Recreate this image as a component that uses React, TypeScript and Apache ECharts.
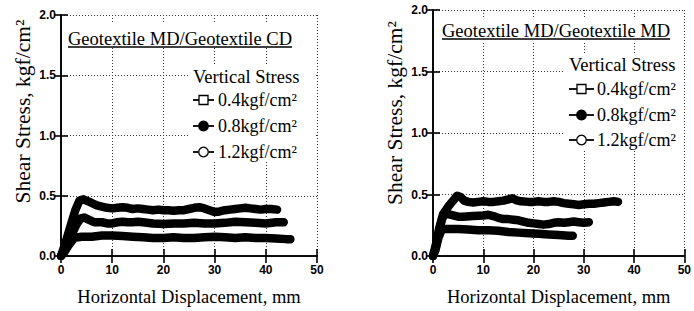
import React, { useEffect, useRef } from "react";
import * as echarts from "echarts";

// ---------- data ----------
const TITLES = ["Geotextile MD/Geotextile CD", "Geotextile MD/Geotextile MD"];
const LEGEND_TITLE = "Vertical Stress";
const SERIES_NAMES = ["0.4kgf/cm²", "0.8kgf/cm²", "1.2kgf/cm²"];
const X_NAME = "Horizontal Displacement, mm";
const Y_NAME = "Shear Stress, kgf/cm²";
const X_MIN = 0, X_MAX = 50, X_STEP = 10;
const Y_MIN = 0, Y_MAX = 2, Y_STEP = 0.5;

// Left panel: MD / CD
const leftS04: [number, number][] = [
  [0, 0], [0.6, 0.03], [1.5, 0.09], [2.6, 0.15], [4, 0.16], [6, 0.16], [8, 0.17], [10, 0.17],
  [12, 0.165], [14, 0.16], [16, 0.155], [18, 0.15], [20, 0.15], [22, 0.155], [24, 0.15],
  [26, 0.15], [28, 0.155], [30, 0.16], [32, 0.155], [34, 0.15], [36, 0.155], [38, 0.15],
  [40, 0.15], [42, 0.145], [44, 0.14], [44.8, 0.14],
];
const leftS08: [number, number][] = [
  [0, 0], [0.8, 0.06], [2, 0.17], [3, 0.26], [3.8, 0.31], [4.5, 0.32], [5.5, 0.3], [6.5, 0.28],
  [8, 0.28], [9, 0.27], [10, 0.27], [11, 0.28], [12, 0.285], [13, 0.28], [14, 0.28], [15, 0.285],
  [16, 0.28], [18, 0.27], [20, 0.265], [22, 0.27], [24, 0.27], [26, 0.275], [28, 0.27], [30, 0.27],
  [32, 0.275], [34, 0.285], [36, 0.28], [38, 0.275], [40, 0.27], [42, 0.28], [43.5, 0.28],
];
const leftS12: [number, number][] = [
  [0, 0], [0.8, 0.1], [1.8, 0.24], [2.8, 0.38], [3.6, 0.46], [4.4, 0.47], [5.2, 0.455], [6, 0.44],
  [7, 0.42], [8, 0.41], [9, 0.4], [10, 0.395], [11, 0.4], [12, 0.405], [13, 0.4], [14, 0.39],
  [15, 0.395], [16, 0.39], [17, 0.385], [18, 0.38], [19, 0.385], [20, 0.38], [21, 0.38],
  [22, 0.375], [23, 0.38], [24, 0.38], [25, 0.39], [26, 0.4], [27, 0.405], [28, 0.395],
  [29, 0.38], [30, 0.365], [31, 0.37], [32, 0.38], [33, 0.385], [34, 0.39], [35, 0.395],
  [36, 0.4], [37, 0.395], [38, 0.39], [39, 0.385], [40, 0.39], [41, 0.39], [42.2, 0.385],
];

// Right panel: MD / MD
const rightS04: [number, number][] = [
  [0, 0], [0.5, 0.05], [1.1, 0.15], [1.8, 0.22], [3, 0.22], [5, 0.22], [7, 0.215], [9, 0.21],
  [11, 0.21], [13, 0.205], [15, 0.195], [17, 0.19], [19, 0.185], [21, 0.18], [23, 0.175],
  [25, 0.17], [27, 0.165], [27.8, 0.165],
];
const rightS08: [number, number][] = [
  [0, 0], [0.5, 0.06], [1.2, 0.2], [1.8, 0.3], [2.4, 0.35], [3, 0.34], [4, 0.33], [5, 0.32],
  [6, 0.32], [8, 0.325], [10, 0.33], [11, 0.335], [12, 0.325], [13, 0.31], [14, 0.3], [15, 0.3],
  [16, 0.295], [17, 0.29], [18, 0.28], [19, 0.27], [20, 0.265], [21, 0.26], [22, 0.255],
  [23, 0.26], [24, 0.27], [25, 0.275], [26, 0.27], [27, 0.275], [28, 0.28], [29, 0.275],
  [30, 0.27], [31, 0.275],
];
const rightS12: [number, number][] = [
  [0, 0], [0.6, 0.1], [1.2, 0.22], [2, 0.34], [3, 0.4], [4, 0.45], [4.8, 0.49], [5.5, 0.48],
  [6.2, 0.45], [7, 0.44], [8, 0.435], [9, 0.44], [10, 0.445], [11, 0.44], [12, 0.44],
  [13, 0.445], [14, 0.45], [15, 0.46], [15.8, 0.47], [16.5, 0.455], [17.5, 0.445], [19, 0.44],
  [20, 0.44], [21, 0.445], [22, 0.44], [23, 0.44], [24, 0.445], [25, 0.44], [26, 0.43],
  [27, 0.425], [28, 0.42], [29, 0.415], [30, 0.42], [31, 0.425], [32, 0.425], [33, 0.43],
  [34, 0.435], [35, 0.44], [36, 0.445], [36.8, 0.44],
];

const PANEL_DATA = [
  [leftS04, leftS08, leftS12],
  [rightS04, rightS08, rightS12],
];

// ---------- layout / style ----------
const SERIF = '"Liberation Serif", "Times New Roman", serif';
const SANS = '"Liberation Sans", Arial, sans-serif';
const TITLE_FS = 18.5;

const PANELS = [
  {
    grid: { left: 61, top: 15, width: 256, height: 243 },
    titleX: 68, titleY: 39, underlineY: 47,
    titleBg: { x: 63, y: 23, w: 252, h: 25 },
    legBg: { x: 188, y: 64, w: 127, h: 98 },
    legX: 193, legTitleY: 77, legYs: [100, 126, 152], lineLen: 21, textGap: 25,
    yNameShift: 48,
  },
  {
    grid: { left: 433, top: 10, width: 252, height: 247 },
    titleX: 442, titleY: 31, underlineY: 39,
    titleBg: { x: 435, y: 18, w: 248, h: 24 },
    legBg: { x: 564, y: 54, w: 119, h: 96 },
    legX: 569, legTitleY: 65, legYs: [89, 115, 140], lineLen: 25, textGap: 28,
    yNameShift: 40,
  },
];

function measure(text: string, font: string): number {
  const c = document.createElement("canvas");
  const ctx = c.getContext("2d");
  if (!ctx) return text.length * 8;
  ctx.font = font;
  return ctx.measureText(text).width;
}

export default function App() {
  const ref = useRef<HTMLDivElement>(null);

  useEffect(() => {
    if (!ref.current) return;
    const chart = echarts.init(ref.current, undefined, { renderer: "svg" });

    const grids: any[] = [];
    const xAxes: any[] = [];
    const yAxes: any[] = [];
    const series: any[] = [];
    const graphics: any[] = [];

    PANELS.forEach((p, i) => {
      grids.push({ ...p.grid, containLabel: false });
      const axisLine = { show: true, lineStyle: { color: "#000", width: 1.6 } };
      const axisTick = { show: true, inside: true, length: 7, lineStyle: { color: "#000", width: 1.6 } };
      const split = { show: true, lineStyle: { color: "#333", type: [1, 2], width: 1 } };
      xAxes.push({
        type: "value", gridIndex: i, position: "bottom", min: X_MIN, max: X_MAX, interval: X_STEP,
        axisLine, axisTick, splitLine: split,
        axisLabel: { color: "#000", fontFamily: SANS, fontWeight: "bold", fontSize: 12, margin: 8 },
        name: X_NAME, nameLocation: "middle", nameGap: 31,
        nameTextStyle: { fontFamily: SERIF, fontSize: 18.5, color: "#000" },
        z: 0,
      });
      xAxes.push({
        type: "value", gridIndex: i, position: "top", min: X_MIN, max: X_MAX, interval: X_STEP,
        axisLine, axisTick, splitLine: { show: false }, axisLabel: { show: false }, z: 5,
      });
      yAxes.push({
        type: "value", gridIndex: i, position: "left", min: Y_MIN, max: Y_MAX, interval: Y_STEP,
        axisLine, axisTick, splitLine: split,
        axisLabel: {
          color: "#000", fontFamily: SANS, fontWeight: "bold", fontSize: 12, margin: 5,
          formatter: (v: number) => v.toFixed(1),
        },
        name: Y_NAME, nameLocation: "middle", nameGap: 27,
        nameTextStyle: {
          fontFamily: SERIF, fontSize: 21.5, color: "#000",
          padding: [0, 0, 0, p.yNameShift],
        },
        z: 0,
      });
      yAxes.push({
        type: "value", gridIndex: i, position: "right", min: Y_MIN, max: Y_MAX, interval: Y_STEP,
        axisLine, axisTick, splitLine: { show: false }, axisLabel: { show: false }, z: 5,
      });

      PANEL_DATA[i].forEach((d, k) => {
        series.push({
          type: "line", name: SERIES_NAMES[k], xAxisIndex: 2 * i, yAxisIndex: 2 * i,
          data: d, symbol: "none", smooth: false, silent: true, z: 3,
          lineStyle: { color: "#000", width: 8.5, cap: "round", join: "round" },
        });
      });

      // title with white background and underline
      const tw = measure(TITLES[i], `${TITLE_FS}px ${SERIF}`);
      graphics.push({
        type: "rect", z: 1, silent: true,
        shape: { x: p.titleBg.x, y: p.titleBg.y, width: p.titleBg.w, height: p.titleBg.h },
        style: { fill: "#fff" },
      });
      graphics.push({
        type: "text", z: 4, x: p.titleX, y: p.titleY,
        style: { text: TITLES[i], font: `${TITLE_FS}px ${SERIF}`, fill: "#000", align: "left", verticalAlign: "middle" },
      });
      graphics.push({
        type: "line", z: 4, silent: true,
        shape: { x1: p.titleX, y1: p.underlineY, x2: p.titleX + tw, y2: p.underlineY },
        style: { stroke: "#000", lineWidth: 1.4 },
      });

      // legend
      graphics.push({
        type: "rect", z: 1, silent: true,
        shape: { x: p.legBg.x, y: p.legBg.y, width: p.legBg.w, height: p.legBg.h },
        style: { fill: "#fff" },
      });
      graphics.push({
        type: "text", z: 4, x: p.legX, y: p.legTitleY,
        style: { text: LEGEND_TITLE, font: `18.5px ${SERIF}`, fill: "#000", align: "left", verticalAlign: "middle" },
      });
      SERIES_NAMES.forEach((nm, k) => {
        const y = p.legYs[k];
        const cx = p.legX + p.lineLen / 2;
        graphics.push({
          type: "line", z: 4, silent: true,
          shape: { x1: p.legX, y1: y, x2: p.legX + p.lineLen, y2: y },
          style: { stroke: "#000", lineWidth: 1.8 },
        });
        if (k === 0) {
          graphics.push({
            type: "rect", z: 5, silent: true,
            shape: { x: cx - 4.5, y: y - 4.5, width: 9, height: 9 },
            style: { fill: "#fff", stroke: "#000", lineWidth: 1.3 },
          });
        } else {
          graphics.push({
            type: "circle", z: 5, silent: true,
            shape: { cx, cy: y, r: 4.8 },
            style: { fill: k === 1 ? "#000" : "#fff", stroke: "#000", lineWidth: 1.3 },
          });
        }
        graphics.push({
          type: "text", z: 4, x: p.legX + p.textGap, y,
          style: { text: nm, font: `18px ${SERIF}`, fill: "#000", align: "left", verticalAlign: "middle" },
        });
      });
    });

    chart.setOption({
      animation: false,
      backgroundColor: "#fff",
      grid: grids,
      xAxis: xAxes,
      yAxis: yAxes,
      series,
      graphic: { elements: graphics },
    });

    return () => chart.dispose();
  }, []);

  return (
    <div
      ref={ref}
      style={{ position: "fixed", left: 0, top: 0, width: 694, height: 311, background: "#fff" }}
    />
  );
}
